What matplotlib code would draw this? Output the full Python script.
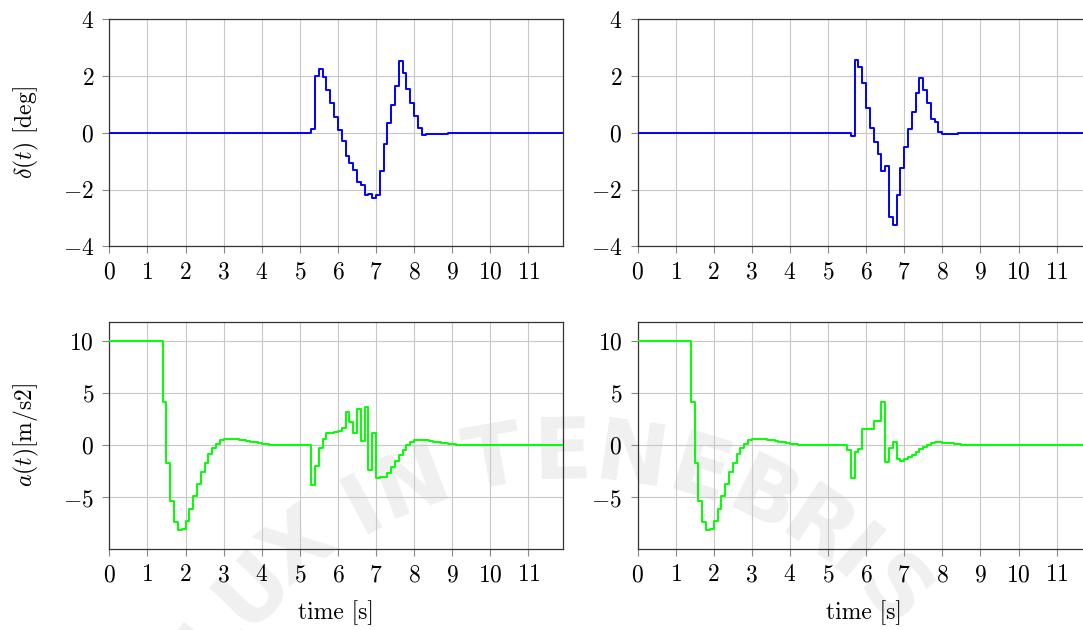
import numpy as np
import matplotlib
matplotlib.use("Agg")
import matplotlib.pyplot as plt

plt.rcParams.update({
    "font.family": "serif",
    "font.serif": ["cmr10"],
    "mathtext.fontset": "cm",
    "axes.formatter.use_mathtext": True,
    "font.size": 17,
})

# muestreo de la simulacion (retenedor de orden cero, Ts = 0.1 s)
Ts = 0.1
n_muestras = 120

# angulo de direccion [deg], caso 1 y caso 2 (tramos no nulos)
t0_delta_1 = 5.3
delta_1 = [0.15, 2.01, 2.25, 1.97, 1.52, 1.04, 0.55, 0.12, -0.28, -0.81,
           -1.06, -1.30, -1.72, -1.84, -2.19, -2.14, -2.29, -2.19, -1.34, -0.38,
           0.37, 0.98, 1.67, 2.52, 2.10, 1.54, 1.07, 0.60, 0.16, -0.06,
           -0.05, -0.04, -0.03, -0.03, -0.02, -0.02, -0.01, -0.01]
t0_delta_2 = 5.6
delta_2 = [-0.09, 2.56, 2.32, 1.75, 0.87, 0.16, -0.31, -0.74, -1.34, -1.15,
           -2.96, -3.25, -2.19, -1.24, -0.48, 0.13, 0.74, 1.42, 1.95, 1.52,
           1.07, 0.48, 0.38, 0.05, -0.03, -0.03, -0.02, -0.02, -0.01, -0.01]

# aceleracion [m/s2]: tramo inicial comun (frenado) y maniobra de cada caso
a_inicial = 10.0
t0_frenado = 1.4
a_frenado = [4.12, -1.66, -5.37, -7.38, -8.15, -8.02, -7.22, -6.14, -4.89, -3.71,
             -2.59, -1.66, -0.86, -0.29, 0.13, 0.45, 0.55, 0.60, 0.60, 0.58,
             0.53, 0.47, 0.40, 0.33, 0.26, 0.20, 0.15, 0.10, 0.06, 0.03,
             0.01, 0.0, -0.01, -0.01, -0.02, -0.02, -0.02, -0.01, -0.01]
t0_a_1 = 5.3
a_1 = [-3.77, -1.95, -0.29, 0.61, 1.12, 1.18, 1.21, 1.31, 1.60, 3.16,
       2.17, 1.18, 3.48, 0.35, 3.67, -2.40, 1.18, -3.10, -3.07, -3.00,
       -2.65, -2.08, -1.47, -0.90, -0.42, 0.0, 0.29, 0.45, 0.48, 0.48,
       0.45, 0.40, 0.34, 0.28, 0.22, 0.16, 0.11, 0.07, 0.04, 0.02, 0.01]
t0_a_2 = 5.5
a_2 = [-0.48, -3.10, -0.64, -0.35, 1.50, 1.50, 1.50, 2.33, 2.33, 4.09,
       -1.57, -0.32, 0.29, -1.37, -1.53, -1.37, -1.18, -0.93, -0.64, -0.35,
       -0.16, 0.06, 0.19, 0.26, 0.26, 0.24, 0.20, 0.16, 0.12, 0.08,
       0.05, 0.03, 0.01]

t = np.round(np.arange(n_muestras) * Ts, 1)


def armar(tramos, base=0.0):
    """Arma la senal muestreada colocando cada tramo (t0, valores) sobre la base."""
    y = np.full(n_muestras, base)
    for t0, valores in tramos:
        k = int(round(t0 / Ts))
        y[k:k + len(valores)] = valores
        if k + len(valores) < n_muestras:
            y[k + len(valores):] = 0.0
    return y


d1 = armar([(t0_delta_1, delta_1)])
d2 = armar([(t0_delta_2, delta_2)])
ac1 = armar([(0.0, [a_inicial] * int(round(t0_frenado / Ts))),
             (t0_frenado, a_frenado), (t0_a_1, a_1)])
ac2 = armar([(0.0, [a_inicial] * int(round(t0_frenado / Ts))),
             (t0_frenado, a_frenado), (t0_a_2, a_2)])

fig = plt.figure(figsize=(10.83, 6.3), dpi=100)

# sello de fondo en arco (letra, angulo en grados)
W, H = 1083, 630
cx, cy, r = 570, 895, 440
sello = list("LUXINTENEBRIS")
angs = [-54, -46, -38, -28, -21, -10, -1, 8, 17, 26, 34, 40, 47]
for ch, th in zip(sello, angs):
    x = cx + r * np.sin(np.radians(th))
    y = cy - r * np.cos(np.radians(th))
    fig.text(x / W, 1 - y / H, ch, fontsize=62, fontweight="bold",
             family="DejaVu Sans", color="#f0f0f0", rotation=-th,
             ha="center", va="center", zorder=-1)

ax_w = 453.4 / W
ax_h = 227 / H
pos = {
    (0, 0): (109.3 / W, 1 - 246.5 / H),
    (0, 1): (637.5 / W, 1 - 246.5 / H),
    (1, 0): (109.3 / W, 1 - 548.7 / H),
    (1, 1): (637.5 / W, 1 - 548.7 / H),
}

series = {
    (0, 0): (d1, "blue"),
    (0, 1): (d2, "blue"),
    (1, 0): (ac1, "#00ff00"),
    (1, 1): (ac2, "#00ff00"),
}

for (fila, col), (y, color) in series.items():
    left, bottom = pos[(fila, col)]
    ax = fig.add_axes([left, bottom, ax_w, ax_h])
    ax.set_facecolor("none")
    ax.step(t, y, where="post", color=color, lw=1.4, zorder=3)
    ax.set_xlim(0, 11.9)
    ax.set_xticks(range(12))
    if fila == 0:
        ax.set_ylim(-4, 4)
        ax.set_yticks([-4, -2, 0, 2, 4])
    else:
        ax.set_ylim(-9.9, 11.8)
        ax.set_yticks([-5, 0, 5, 10])
    ax.grid(True, color="#c8c8c8", lw=0.8)
    ax.set_axisbelow(True)
    ax.tick_params(direction="out", length=5, width=0.8, color="#888888", pad=6)
    for s in ax.spines.values():
        s.set_color("#333333")
        s.set_linewidth(0.9)
    if col == 0:
        if fila == 0:
            ax.set_ylabel(r"$\delta(t)$ [deg]")
        else:
            ax.set_ylabel(r"$a(t)$[m/s2]")
        ax.yaxis.set_label_coords(-0.15, 0.5)
    if fila == 1:
        ax.set_xlabel("time [s]")
        ax.xaxis.set_label_coords(0.5, -0.225)

fig.savefig("out.png", dpi=100)
